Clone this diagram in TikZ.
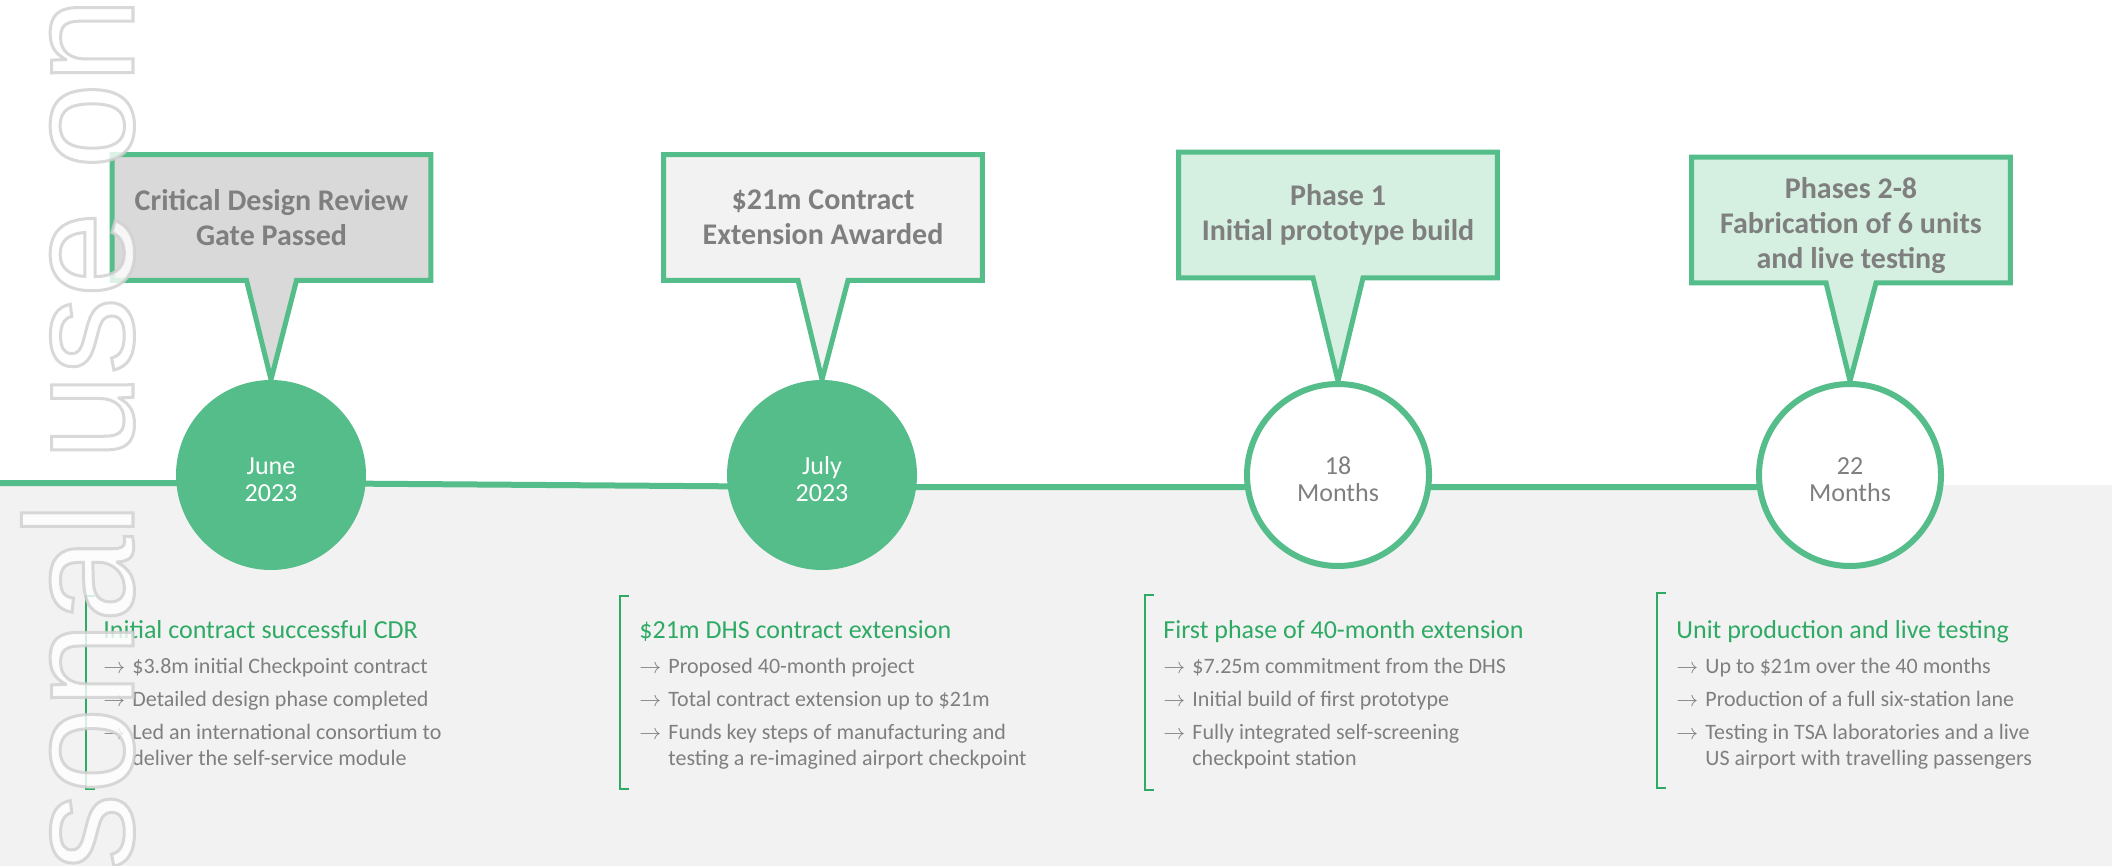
\documentclass[tikz,border=0pt]{standalone}
\usepackage{fontspec}
\setmainfont{Carlito}
\newfontfamily\wmfont{Liberation Sans}
\usepackage{xcolor}
\usetikzlibrary{positioning}
\pgfdeclarelayer{bg}
\pgfsetlayers{bg,main}

\definecolor{tlgreen}{HTML}{55BD8A}
\definecolor{hdgreen}{HTML}{2EAA64}
\definecolor{txtgray}{HTML}{7F7F7F}
\definecolor{boxgray}{HTML}{D9D9D9}
\definecolor{boxlight}{HTML}{F2F2F2}
\definecolor{boxgreen}{HTML}{D5EFE1}
\definecolor{bggray}{HTML}{F2F2F2}
\definecolor{wmgray}{HTML}{CFCFCF}

\newcommand{\arr}{\makebox[14.5pt][l]{\raisebox{0.2pt}{\fontsize{10.5}{11}\selectfont$\rightarrow$}}}
\newcommand{\cont}{\hspace*{14.5pt}}

\begin{document}
\begin{tikzpicture}[
			x=0.5pt, y=-0.5pt,
			callbox/.style={minimum width=159pt, minimum height=62.5pt, inner sep=0pt, align=center, text=txtgray, font=\fontsize{15}{17.5}\selectfont\bfseries},
			callout/.style={draw=tlgreen, line width=2.5pt, line join=miter},
			datefull/.style={circle, fill=tlgreen, minimum size=95pt, inner sep=0pt, align=center, text=white, font=\fontsize{13}{13.5}\selectfont},
			dateopen/.style={circle, draw=tlgreen, line width=3pt, fill=white, minimum size=91pt, inner sep=0pt, align=center, text=txtgray, font=\fontsize{13}{13.5}\selectfont},
			heading/.style={anchor=base west, inner sep=0pt, text=hdgreen, font=\fontsize{13}{15}\selectfont},
			points/.style={anchor=north west, inner sep=0pt, align=left, text=txtgray, font=\fontsize{11}{13}\selectfont},
			bracket/.style={draw=hdgreen, line width=1pt},
			timeline/.style={draw=tlgreen, line width=3pt}
			]

			\useasboundingbox (0,0) rectangle (2112,866);

			% dates
			\node[datefull] (c1) at (271,475) {\rule{0pt}{13.5pt}June\\2023};
			\node[datefull] (c2) at (822,475) {\rule{0pt}{13.5pt}July\\2023};
			\node[dateopen] (c3) at (1338,475) {\rule{0pt}{13.5pt}18\\Months};
			\node[dateopen] (c4) at (1850,475) {\rule{0pt}{13.5pt}22\\Months};

			% callouts
			\node[callbox] (b1) at (271.5,217.5) {Critical Design Review\\Gate Passed};
			\node[callbox] (b2) at (823,217.5) {\$21m Contract\\Extension Awarded};
			\node[callbox] (b3) at (1338,215) {Phase 1\\Initial prototype build};
			\node[callbox] (b4) at (1851,220) {\rule{0pt}{16pt}Phases 2-8\\Fabrication of 6 units\\and live testing};

			\begin{pgfonlayer}{bg}
			\fill[bggray] (0,485) rectangle (2112,866);
			\coordinate (l0) at (0,483);
			\draw[timeline] (l0) -- ([yshift=-4pt]c1.center) -- ([yshift=-6pt]c2.center) -- ([yshift=-6pt]c3.center) -- ([yshift=-6pt]c4.center);

			\draw[callout,fill=boxgray] (b1.north west) -- (b1.north east) -- (b1.south east) -- ([xshift=12.5pt]b1.south) -- (c1.north) -- ([xshift=-12.5pt]b1.south) -- (b1.south west) -- cycle;
			\draw[callout,fill=boxlight] (b2.north west) -- (b2.north east) -- (b2.south east) -- ([xshift=12.5pt]b2.south) -- (c2.north) -- ([xshift=-12.5pt]b2.south) -- (b2.south west) -- cycle;
			\draw[callout,fill=boxgreen] (b3.north west) -- (b3.north east) -- (b3.south east) -- ([xshift=12.5pt]b3.south) -- (c3.north) -- ([xshift=-12.5pt]b3.south) -- (b3.south west) -- cycle;
			\draw[callout,fill=boxgreen] (b4.north west) -- (b4.north east) -- (b4.south east) -- ([xshift=12.5pt]b4.south) -- (c4.north) -- ([xshift=-12.5pt]b4.south) -- (b4.south west) -- cycle;
			\end{pgfonlayer}

			% text columns
			\draw[bracket] (95,596) -- (86,596) -- (86,789) -- (95,789);
			\node[heading] (h1) at (103,638) {Initial contract successful CDR};
			\node[points] (p1) at (103,658) {\arr\$3.8m initial Checkpoint contract\\[3.5pt]\arr Detailed design phase completed\\[3.5pt]\arr Led an international consortium to\\\cont deliver the self-service module};

			\draw[bracket] (629,596) -- (620,596) -- (620,789) -- (629,789);
			\node[heading] (h2) at (639,638) {\$21m DHS contract extension};
			\node[points] (p2) at (639,658) {\arr Proposed 40-month project\\[3.5pt]\arr Total contract extension up to \$21m\\[3.5pt]\arr Funds key steps of manufacturing and\\\cont testing a re-imagined airport checkpoint};

			\draw[bracket] (1154,595) -- (1145,595) -- (1145,790) -- (1154,790);
			\node[heading] (h3) at (1163,638) {First phase of 40-month extension};
			\node[points] (p3) at (1163,658) {\arr\$7.25m commitment from the DHS\\[3.5pt]\arr Initial build of first prototype\\[3.5pt]\arr Fully integrated self-screening\\\cont checkpoint station};

			\draw[bracket] (1666,593) -- (1657,593) -- (1657,788) -- (1666,788);
			\node[heading] (h4) at (1676,638) {Unit production and live testing};
			\node[points] (p4) at (1676,658) {\arr Up to \$21m over the 40 months\\[3.5pt]\arr Production of a full six-station lane\\[3.5pt]\arr Testing in TSA laboratories and a live\\\cont US airport with travelling passengers};

			% watermark
			\node[anchor=base west, rotate=90, inner sep=0pt, text=wmgray, opacity=0.8, font=\wmfont\fontsize{77}{77}\selectfont] (wm) at (133,871) {\special{pdf:literal direct 2 Tr 1.5 w 1 g}sonal use on\special{pdf:literal direct 0 Tr}};

			\end{tikzpicture}
\end{document}
